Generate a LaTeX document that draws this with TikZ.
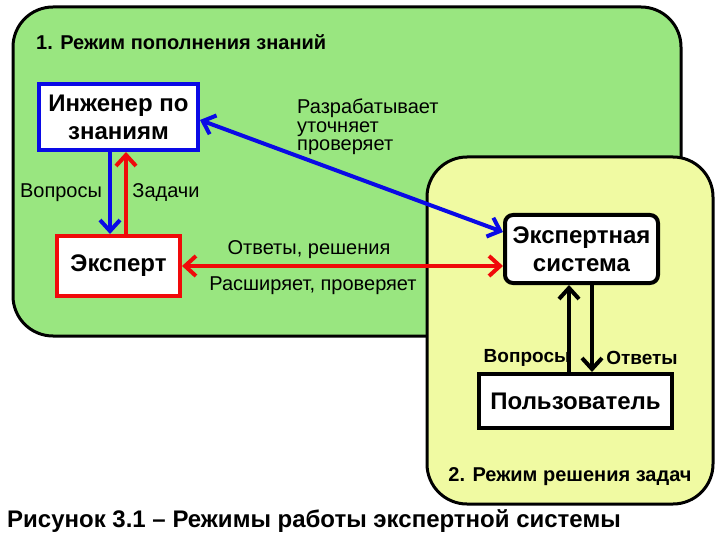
\documentclass[tikz,border=0pt]{standalone}
\usepackage{fontspec}
\setmainfont{Liberation Sans}
\usetikzlibrary{arrows.meta,calc}
\definecolor{grn}{RGB}{153,230,128}
\definecolor{ylw}{RGB}{240,250,162}
\definecolor{blu}{RGB}{10,10,230}
\definecolor{rd}{RGB}{240,10,10}
\tikzset{
  panel/.style={draw=black,line width=3pt,rounded corners=40pt},
  box/.style={fill=white,line width=4pt,align=center,inner sep=0pt,font=\fontsize{24}{28}\selectfont\bfseries},
  conn/.style={line width=4pt,{Straight Barb[length=11pt,width=20pt,line width=4pt]}-{Straight Barb[length=11pt,width=20pt,line width=4pt]}},
  onehead/.style={line width=4pt,-{Straight Barb[length=11pt,width=20pt,line width=4pt]}},
  lbl/.style={inner sep=0pt,font=\fontsize{20}{18.5}\selectfont},
  blbl/.style={inner sep=0pt,font=\fontsize{20}{22}\selectfont\bfseries}
}
\begin{document}
\begin{tikzpicture}[x=1pt,y=-1pt]
\useasboundingbox (0,0) rectangle (720,540);
\fill[white] (0,0) rectangle (720,540);
% panels
\draw[panel,fill=grn] (13,7) rectangle (681,336);
\draw[panel,fill=ylw] (427,157) rectangle (713,504);
\node[blbl,anchor=west] (t1) at (36,42) {1. Режим пополнения знаний};
\node[blbl,anchor=center] (t2) at (570,477) {2. Режим решения задач};
% boxes
\node[box,draw=blu,minimum width=159pt,minimum height=66pt] (inj) at (118.5,117) {Инженер по\\знаниям};
\node[box,draw=rd,minimum width=123pt,minimum height=60pt] (exp) at (118.5,266) {Эксперт};
\node[box,draw=black,rounded corners=8pt,minimum width=153pt,minimum height=68pt] (es) at (581.5,249) {Экспертная\\система};
\node[box,draw=black,minimum width=193pt,minimum height=54pt] (usr) at (575.5,401) {Пользователь};
% connectors
\draw[onehead,blu] ([xshift=-8.5pt]inj.south) -- ([xshift=-8.5pt]exp.north);
\draw[onehead,rd] ([xshift=7.5pt]exp.north) -- ([xshift=7.5pt]inj.south);
\draw[conn,blu] ([yshift=-3pt]inj.east) -- ([yshift=17pt]es.west);
\draw[conn,rd] (exp.east) -- ([yshift=-17pt]es.west);
\draw[onehead,black] ([xshift=-6.5pt]usr.north) -- ([xshift=-12.5pt]es.south);
\draw[onehead,black] ([xshift=10.5pt]es.south) -- ([xshift=16.5pt]usr.north);
% labels
\node[lbl] (lq) at (61,193) {Вопросы};
\node[lbl] (lz) at (166,193) {Задачи};
\node[lbl,anchor=north west,align=left] (lr) at (297,99) {Разрабатывает\\уточняет\\проверяет};
\node[lbl] (lo) at (309,250) {Ответы, решения};
\node[lbl] (lp) at (313,286) {Расширяет, проверяет};
\node[blbl,font=\fontsize{19}{21}\selectfont\bfseries] (bq) at (527,358) {Вопросы};
\node[blbl,font=\fontsize{19}{21}\selectfont\bfseries] (bo) at (642,358) {Ответы};
% caption
\node[inner sep=0pt,anchor=west,font=\fontsize{24}{26}\selectfont\bfseries] (cap) at (7,521) {Рисунок 3.1 – Режимы работы экспертной системы};
\end{tikzpicture}
\end{document}
